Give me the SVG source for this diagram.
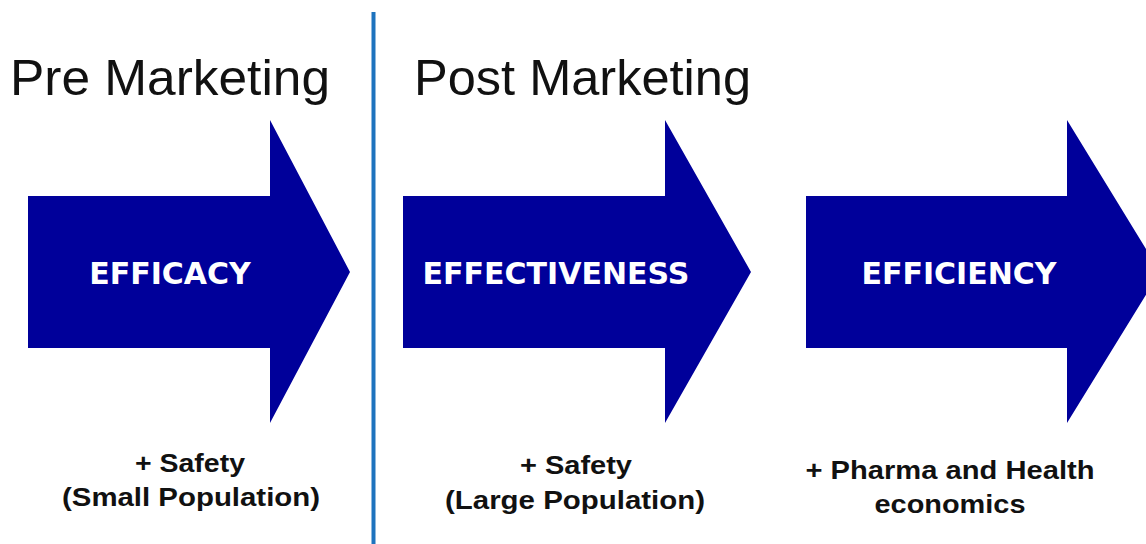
<svg xmlns="http://www.w3.org/2000/svg" width="1146" height="544" viewBox="0 0 1146 544">
<style>
.arrow{fill:#00009a}
.title{font-family:"Liberation Sans",Arial,sans-serif;font-size:50px;fill:#111}
.lbl{font-family:"DejaVu Sans",Verdana,sans-serif;font-weight:bold;font-size:30px;fill:#fff;text-anchor:middle}
.note{font-family:"Liberation Sans",Arial,sans-serif;font-weight:bold;font-size:26px;fill:#111;text-anchor:middle}
</style>
<rect width="1146" height="544" fill="#fff"/>
<g id="divider"><line x1="373.5" y1="12" x2="373.5" y2="544" stroke="#1e73be" stroke-width="4"/></g>
<g id="titles">
<text class="title" x="10" y="95" textLength="320" lengthAdjust="spacingAndGlyphs">Pre Marketing</text>
<text class="title" x="414" y="95" textLength="337" lengthAdjust="spacingAndGlyphs">Post Marketing</text>
</g>
<g id="efficacy">
<polygon class="arrow" points="28,196 270,196 270,120 350,272 270,423 270,348 28,348"/>
<text class="lbl" x="170" y="284">EFFICACY</text>
<text class="note" x="190" y="472" textLength="110" lengthAdjust="spacingAndGlyphs">+ Safety</text>
<text class="note" x="191" y="506" textLength="258" lengthAdjust="spacingAndGlyphs">(Small Population)</text>
</g>
<g id="effectiveness">
<polygon class="arrow" points="403,196 665,196 665,120 751,272 665,423 665,348 403,348"/>
<text class="lbl" x="556" y="284">EFFECTIVENESS</text>
<text class="note" x="576" y="474" textLength="112" lengthAdjust="spacingAndGlyphs">+ Safety</text>
<text class="note" x="575" y="509" textLength="260" lengthAdjust="spacingAndGlyphs">(Large Population)</text>
</g>
<g id="efficiency">
<polygon class="arrow" points="806,196 1067,196 1067,120 1160,272 1067,423 1067,348 806,348"/>
<text class="lbl" x="959" y="284">EFFICIENCY</text>
<text class="note" x="950" y="479" textLength="289" lengthAdjust="spacingAndGlyphs">+ Pharma and Health</text>
<text class="note" x="950" y="513" textLength="151" lengthAdjust="spacingAndGlyphs">economics</text>
</g>
<g id="connectors"></g>
</svg>
